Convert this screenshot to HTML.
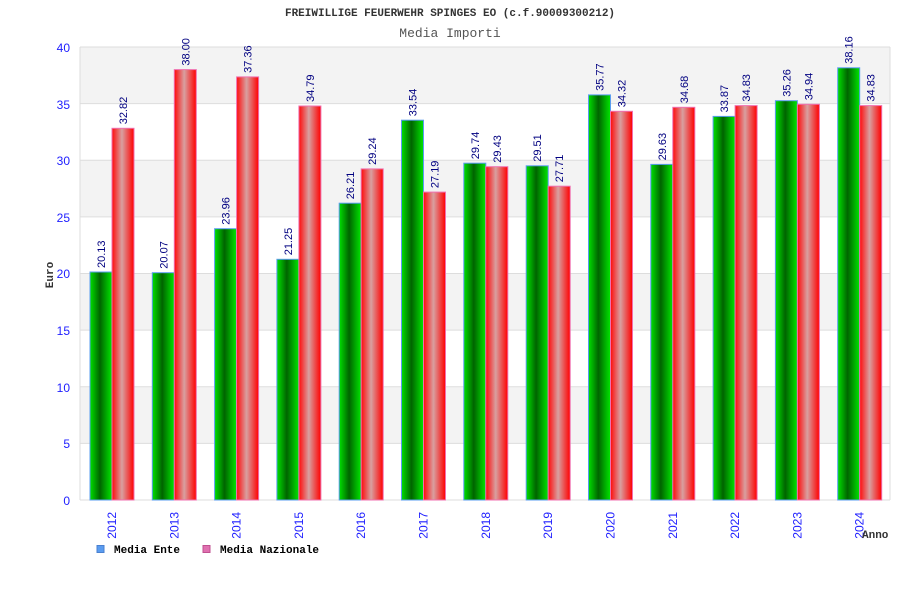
<!DOCTYPE html>
<html><head><meta charset="utf-8"><style>body{margin:0;background:#fff}svg{display:block}</style></head><body>
<svg width="900" height="600" xmlns="http://www.w3.org/2000/svg" font-family="Liberation Sans, DejaVu Sans, sans-serif">
<defs>
<linearGradient id="g" x1="0" x2="1" y1="0" y2="0"><stop offset="0" stop-color="#00e000"/><stop offset="0.45" stop-color="#006400"/><stop offset="1" stop-color="#00e600"/></linearGradient>
<linearGradient id="r" x1="0" x2="1" y1="0" y2="0"><stop offset="0" stop-color="#ff0a0a"/><stop offset="0.45" stop-color="#d8a0a0"/><stop offset="1" stop-color="#ff0000"/></linearGradient>
</defs>
<rect width="900" height="600" fill="#fff"/>
<text x="450" y="16" text-anchor="middle" font-family="Liberation Mono, monospace" font-weight="bold" font-size="11" fill="#333">FREIWILLIGE FEUERWEHR SPINGES EO (c.f.90009300212)</text>
<text x="450" y="37" text-anchor="middle" font-family="Liberation Mono, monospace" font-size="13" fill="#555">Media Importi</text>
<g fill="#f3f3f3">
<rect x="80" y="47" width="810" height="56.6"/><rect x="80" y="160.3" width="810" height="56.6"/><rect x="80" y="273.5" width="810" height="56.6"/><rect x="80" y="386.8" width="810" height="56.6"/>
</g>
<g stroke="#ddd" stroke-width="1">
<line x1="80" x2="890" y1="47" y2="47"/><line x1="80" x2="890" y1="103.6" y2="103.6"/><line x1="80" x2="890" y1="160.3" y2="160.3"/><line x1="80" x2="890" y1="216.9" y2="216.9"/><line x1="80" x2="890" y1="273.5" y2="273.5"/><line x1="80" x2="890" y1="330.1" y2="330.1"/><line x1="80" x2="890" y1="386.8" y2="386.8"/><line x1="80" x2="890" y1="443.4" y2="443.4"/>
<line x1="80" x2="890" y1="500" y2="500"/><line x1="80" x2="80" y1="47" y2="500"/><line x1="890" x2="890" y1="47" y2="500"/>
</g>
<g fill="#2020ff" font-size="12" text-anchor="end">
<text x="70" y="52">40</text><text x="70" y="109">35</text><text x="70" y="165">30</text><text x="70" y="222">25</text><text x="70" y="278">20</text><text x="70" y="335">15</text><text x="70" y="392">10</text><text x="70" y="448">5</text><text x="70" y="505">0</text>
</g>
<text transform="translate(53,275) rotate(-90)" text-anchor="middle" font-family="Liberation Mono, monospace" font-weight="bold" font-size="11" fill="#333">Euro</text>
<g fill="url(#g)" stroke="#5a9cf0" stroke-width="1">
<rect x="90" y="272.0" width="22" height="228.0"/><rect x="152.3" y="272.7" width="22" height="227.3"/><rect x="214.6" y="228.7" width="22" height="271.3"/><rect x="276.9" y="259.3" width="22" height="240.7"/><rect x="339.2" y="203.2" width="22" height="296.8"/><rect x="401.5" y="120.2" width="22" height="379.8"/><rect x="463.8" y="163.2" width="22" height="336.8"/><rect x="526.2" y="165.8" width="22" height="334.2"/><rect x="588.5" y="94.9" width="22" height="405.1"/><rect x="650.8" y="164.4" width="22" height="335.6"/><rect x="713.1" y="116.4" width="22" height="383.6"/><rect x="775.4" y="100.7" width="22" height="399.3"/><rect x="837.7" y="67.8" width="22" height="432.2"/>
</g>
<g fill="url(#r)" stroke="#f070b0" stroke-width="1">
<rect x="112" y="128.3" width="22" height="371.7"/><rect x="174.3" y="69.6" width="22" height="430.4"/><rect x="236.6" y="76.9" width="22" height="423.1"/><rect x="298.9" y="106.0" width="22" height="394.0"/><rect x="361.2" y="168.9" width="22" height="331.1"/><rect x="423.5" y="192.1" width="22" height="307.9"/><rect x="485.8" y="166.7" width="22" height="333.3"/><rect x="548.2" y="186.2" width="22" height="313.8"/><rect x="610.5" y="111.3" width="22" height="388.7"/><rect x="672.8" y="107.3" width="22" height="392.7"/><rect x="735.1" y="105.6" width="22" height="394.4"/><rect x="797.4" y="104.3" width="22" height="395.7"/><rect x="859.7" y="105.6" width="22" height="394.4"/>
</g>
<g fill="#000080" font-size="11">
<text transform="translate(105,268) rotate(-90)">20.13</text>
<text transform="translate(167.3,268.7) rotate(-90)">20.07</text>
<text transform="translate(229.6,224.7) rotate(-90)">23.96</text>
<text transform="translate(291.9,255.3) rotate(-90)">21.25</text>
<text transform="translate(354.2,199.2) rotate(-90)">26.21</text>
<text transform="translate(416.5,116.2) rotate(-90)">33.54</text>
<text transform="translate(478.8,159.2) rotate(-90)">29.74</text>
<text transform="translate(541.2,161.8) rotate(-90)">29.51</text>
<text transform="translate(603.5,90.9) rotate(-90)">35.77</text>
<text transform="translate(665.8,160.4) rotate(-90)">29.63</text>
<text transform="translate(728.1,112.4) rotate(-90)">33.87</text>
<text transform="translate(790.4,96.7) rotate(-90)">35.26</text>
<text transform="translate(852.7,63.8) rotate(-90)">38.16</text>
<text transform="translate(127,124.3) rotate(-90)">32.82</text>
<text transform="translate(189.3,65.6) rotate(-90)">38.00</text>
<text transform="translate(251.6,72.9) rotate(-90)">37.36</text>
<text transform="translate(313.9,102) rotate(-90)">34.79</text>
<text transform="translate(376.2,164.9) rotate(-90)">29.24</text>
<text transform="translate(438.5,188.1) rotate(-90)">27.19</text>
<text transform="translate(500.8,162.7) rotate(-90)">29.43</text>
<text transform="translate(563.2,182.2) rotate(-90)">27.71</text>
<text transform="translate(625.5,107.3) rotate(-90)">34.32</text>
<text transform="translate(687.8,103.3) rotate(-90)">34.68</text>
<text transform="translate(750.1,101.6) rotate(-90)">34.83</text>
<text transform="translate(812.4,100.3) rotate(-90)">34.94</text>
<text transform="translate(874.7,101.6) rotate(-90)">34.83</text>
</g>
<g fill="#2020ff" font-size="12" text-anchor="end">
<text transform="translate(116,512) rotate(-90)">2012</text>
<text transform="translate(178.3,512) rotate(-90)">2013</text>
<text transform="translate(240.6,512) rotate(-90)">2014</text>
<text transform="translate(302.9,512) rotate(-90)">2015</text>
<text transform="translate(365.2,512) rotate(-90)">2016</text>
<text transform="translate(427.5,512) rotate(-90)">2017</text>
<text transform="translate(489.8,512) rotate(-90)">2018</text>
<text transform="translate(552.2,512) rotate(-90)">2019</text>
<text transform="translate(614.5,512) rotate(-90)">2020</text>
<text transform="translate(676.8,512) rotate(-90)">2021</text>
<text transform="translate(739.1,512) rotate(-90)">2022</text>
<text transform="translate(801.4,512) rotate(-90)">2023</text>
<text transform="translate(863.7,512) rotate(-90)">2024</text>
</g>
<text x="862" y="538" font-family="Liberation Mono, monospace" font-weight="bold" font-size="11" fill="#333">Anno</text>
<rect x="97" y="545.5" width="7" height="7" fill="#5a9cf0" stroke="#4a80d0"/>
<text x="114" y="553" font-family="Liberation Mono, monospace" font-weight="bold" font-size="11" fill="#000">Media Ente</text>
<rect x="203" y="545.5" width="7" height="7" fill="#e070b0" stroke="#c05090"/>
<text x="220" y="553" font-family="Liberation Mono, monospace" font-weight="bold" font-size="11" fill="#000">Media Nazionale</text>
</svg>
</body></html>
